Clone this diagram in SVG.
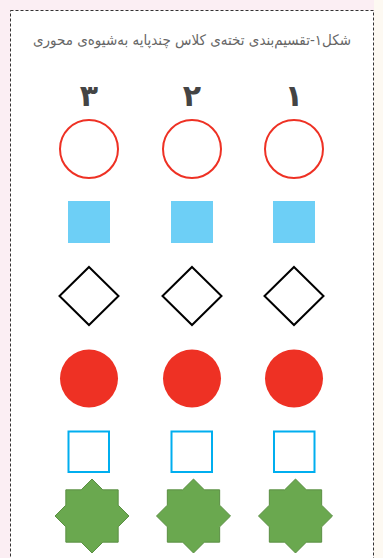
<svg xmlns="http://www.w3.org/2000/svg" xmlns:xlink="http://www.w3.org/1999/xlink" width="383" height="558" viewBox="0 0 383 558">
<style>
.ring{fill:#ffffff;stroke:#ee3124;stroke-width:2}
.dot{fill:#ee3124}
.sq{fill:#6dcff6}
.box{fill:#ffffff;stroke:#00aeef;stroke-width:2}
.dia{fill:#ffffff;stroke:#000000;stroke-width:2}
.star{fill:#6aa84f;stroke:#5b8f43;stroke-width:1}
.num{font-family:"DejaVu Sans",sans-serif;font-weight:bold;font-size:30px;fill:#444444;text-anchor:middle}
.title{font-family:"DejaVu Sans",sans-serif;font-size:14.5px;fill:#666666;text-anchor:middle}
</style>
<defs>
<polygon id="oct" class="star" points="0,-37 10.84,-26.16 26.16,-26.16 26.16,-10.84 37,0 26.16,10.84 26.16,26.16 10.84,26.16 0,37 -10.84,26.16 -26.16,26.16 -26.16,10.84 -37,0 -26.16,-10.84 -26.16,-26.16 -10.84,-26.16"/>
</defs>
<rect x="0" y="0" width="383" height="558" fill="#fbeef3"/>
<rect x="374" y="0" width="9" height="558" fill="#fdf9f2"/>
<rect x="10.5" y="10.5" width="363" height="560" fill="#ffffff" stroke="#333333" stroke-width="1" stroke-dasharray="3,2"/>
<g id="title">
<text class="title" x="192" y="45" direction="rtl" textLength="318" lengthAdjust="spacingAndGlyphs">شکل۱-تقسیم‌بندی تخته‌ی کلاس چندپایه به‌شیوه‌ی محوری</text>
</g>
<g id="col3">
<text class="num" x="89" y="106">۳</text>
<circle class="ring" cx="89" cy="149" r="29"/>
<rect class="sq" x="68" y="201" width="42" height="42"/>
<polygon class="dia" points="89,267 118.5,296 89,325 59.5,296"/>
<circle class="dot" cx="89" cy="378.5" r="29"/>
<rect class="box" x="68.5" y="431.5" width="40.5" height="40.5"/>
<use xlink:href="#oct" x="92" y="516"/>
</g>
<g id="col2">
<text class="num" x="192" y="106">۲</text>
<circle class="ring" cx="192" cy="149" r="29"/>
<rect class="sq" x="171" y="201" width="42" height="42"/>
<polygon class="dia" points="192,267 221.5,296 192,325 162.5,296"/>
<circle class="dot" cx="192" cy="378.5" r="29"/>
<rect class="box" x="171.5" y="431.5" width="40.5" height="40.5"/>
<use xlink:href="#oct" x="193.5" y="516"/>
</g>
<g id="col1">
<text class="num" x="294" y="106">۱</text>
<circle class="ring" cx="294" cy="149" r="29"/>
<rect class="sq" x="273" y="201" width="42" height="42"/>
<polygon class="dia" points="294,267 323.5,296 294,325 264.5,296"/>
<circle class="dot" cx="294" cy="378.5" r="29"/>
<rect class="box" x="274" y="431.5" width="40.5" height="40.5"/>
<use xlink:href="#oct" x="295.5" y="516"/>
</g>
<g id="connectors"/>
</svg>
